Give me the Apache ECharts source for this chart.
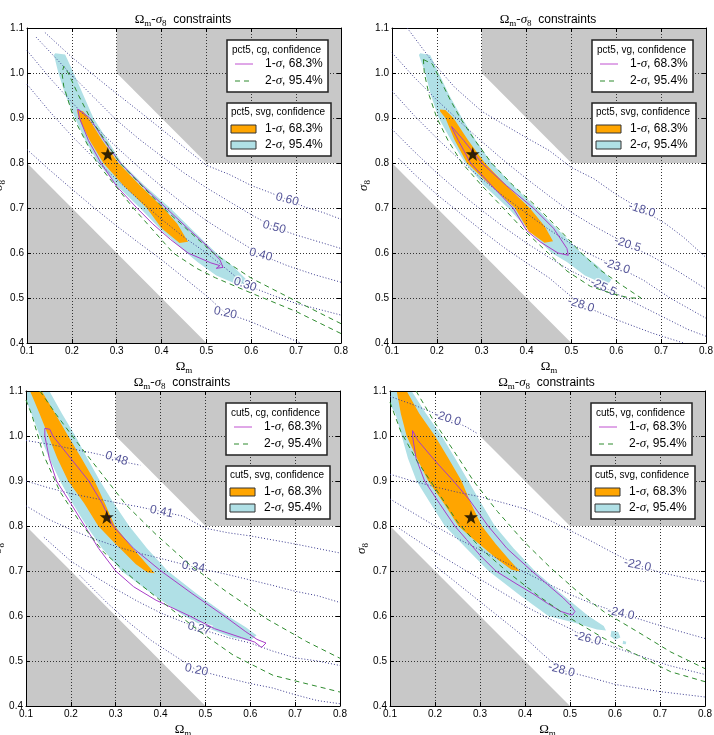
<!DOCTYPE html>
<html>
<head>
<meta charset="utf-8">
<script src="https://cdn.jsdelivr.net/npm/echarts@6.0.0/dist/echarts.min.js"></script>
<style>
  html, body { margin: 0; padding: 0; background: #fff; }
  #chart { width: 714px; height: 735px; }
</style>
</head>
<body>
<div id="chart"></div>
<script>
// ---- data (Omega_m, sigma_8) ----
const fiducial = [[0.28, 0.82]];
const excludedLow = [[0.1, 0.4], [0.1, 0.8], [0.5, 0.4]];
const excludedHigh = [[0.3, 1.1], [0.3, 1.0], [0.5, 0.8], [0.8, 0.8], [0.8, 1.1]];
const sigmaLabels = ['1-{i|σ}, 68.3%', '2-{i|σ}, 95.4%'];

// panel 1: pct5, cg
const p1Fill2 = [[0.163,1.044],[0.185,1.041],[0.204,1.0],[0.226,0.95],[0.248,0.9],[0.28,0.85],[0.311,0.8],[0.362,0.75],[0.419,0.7],[0.47,0.65],[0.522,0.6],[0.56,0.57],[0.593,0.537],[0.574,0.528],[0.522,0.55],[0.48,0.58],[0.456,0.6],[0.4,0.65],[0.352,0.7],[0.3,0.75],[0.259,0.8],[0.23,0.85],[0.207,0.9],[0.186,0.95],[0.17,1.0],[0.16,1.04]];
const p1Fill1 = [[0.211,0.919],[0.225,0.915],[0.237,0.9],[0.268,0.85],[0.304,0.8],[0.352,0.75],[0.404,0.7],[0.435,0.665],[0.459,0.625],[0.44,0.622],[0.4,0.655],[0.367,0.7],[0.315,0.75],[0.27,0.8],[0.24,0.85],[0.215,0.9],[0.211,0.919]];
const p1Sigma1 = [[0.213,0.92],[0.24,0.9],[0.272,0.85],[0.308,0.8],[0.357,0.75],[0.41,0.7],[0.458,0.655],[0.5,0.617],[0.53,0.585],[0.537,0.568],[0.522,0.566],[0.53,0.572],[0.51,0.578],[0.459,0.6],[0.42,0.63],[0.38,0.665],[0.345,0.7],[0.3,0.748],[0.265,0.8],[0.237,0.85],[0.217,0.9],[0.213,0.92]];
const p1Sigma2 = [[[0.8,0.421],[0.7,0.47],[0.6,0.511],[0.52,0.545],[0.478,0.566],[0.426,0.6],[0.337,0.7],[0.256,0.8],[0.204,0.9],[0.182,0.97],[0.178,1.0],[0.182,1.015],[0.192,1.0],[0.215,0.95],[0.241,0.9],[0.307,0.8],[0.404,0.7],[0.515,0.6],[0.6,0.544],[0.7,0.493],[0.8,0.443]]];
const p1Levels = ['0.60', '0.50', '0.40', '0.30', '0.20'];
const p1LabelAt = [[0.68,0.719],[0.651,0.657],[0.621,0.596],[0.586,0.53],[0.542,0.467]];
const p1Contours = [
  [[0.14,1.09],[0.2,1.035],[0.28,0.97],[0.35,0.915],[0.4,0.875],[0.45,0.835],[0.5,0.795],[0.55,0.775],[0.6,0.75],[0.64,0.735],[0.68,0.719],[0.72,0.702],[0.76,0.69],[0.8,0.675]],
  [[0.12,1.08],[0.2,0.995],[0.25,0.945],[0.3,0.895],[0.35,0.853],[0.4,0.815],[0.45,0.778],[0.5,0.745],[0.55,0.715],[0.6,0.685],[0.651,0.657],[0.7,0.64],[0.75,0.625],[0.8,0.61]],
  [[0.1,1.05],[0.15,0.99],[0.2,0.935],[0.25,0.883],[0.3,0.835],[0.35,0.79],[0.4,0.748],[0.45,0.708],[0.5,0.672],[0.55,0.64],[0.621,0.596],[0.68,0.572],[0.74,0.552],[0.8,0.535]],
  [[0.1,0.975],[0.15,0.915],[0.2,0.86],[0.25,0.81],[0.3,0.763],[0.35,0.718],[0.4,0.675],[0.45,0.635],[0.5,0.6],[0.55,0.56],[0.586,0.53],[0.65,0.505],[0.7,0.488],[0.75,0.475],[0.8,0.462]],
  [[0.1,0.83],[0.15,0.785],[0.2,0.742],[0.25,0.7],[0.3,0.66],[0.35,0.622],[0.4,0.585],[0.45,0.545],[0.5,0.505],[0.542,0.467],[0.6,0.447],[0.65,0.425],[0.71,0.4]]
];
const p1LabelRot = [-15, -15, -15, -18, -12];

// panel 2: pct5, vg
const p2Fill2 = [[0.163,1.044],[0.185,1.04],[0.204,1.0],[0.228,0.95],[0.256,0.9],[0.287,0.85],[0.322,0.8],[0.37,0.75],[0.422,0.7],[0.472,0.65],[0.522,0.6],[0.56,0.57],[0.589,0.541],[0.58,0.528],[0.53,0.55],[0.49,0.58],[0.456,0.6],[0.405,0.65],[0.359,0.7],[0.305,0.75],[0.263,0.8],[0.232,0.85],[0.204,0.9],[0.187,0.95],[0.174,1.0],[0.16,1.04]];
const p2Fill1 = [[0.207,0.919],[0.219,0.918],[0.237,0.9],[0.27,0.85],[0.307,0.8],[0.355,0.75],[0.407,0.7],[0.44,0.66],[0.459,0.626],[0.44,0.623],[0.405,0.648],[0.374,0.7],[0.32,0.75],[0.267,0.8],[0.24,0.85],[0.219,0.9],[0.207,0.915]];
const p2Sigma1 = [[0.233,0.881],[0.26,0.85],[0.3,0.8],[0.355,0.75],[0.415,0.7],[0.46,0.655],[0.49,0.61],[0.493,0.595],[0.47,0.6],[0.43,0.625],[0.4,0.65],[0.37,0.7],[0.322,0.75],[0.275,0.8],[0.248,0.85],[0.235,0.875],[0.233,0.881]];
const p2Sigma2 = [[[0.17,1.03],[0.19,1.02],[0.21,0.98],[0.23,0.94],[0.252,0.9],[0.285,0.85],[0.322,0.8],[0.37,0.75],[0.426,0.7],[0.475,0.65],[0.522,0.6],[0.56,0.565],[0.61,0.53],[0.655,0.5],[0.63,0.5],[0.59,0.51],[0.542,0.526],[0.49,0.56],[0.448,0.6],[0.395,0.65],[0.348,0.7],[0.3,0.75],[0.256,0.8],[0.225,0.85],[0.2,0.9],[0.183,0.95],[0.172,1.0],[0.17,1.03]]];
const p2Levels = ['-18.0', '-20.5', '-23.0', '-25.5', '-28.0'];
const p2LabelAt = [[0.657,0.696],[0.625,0.619],[0.601,0.57],[0.571,0.524],[0.521,0.485]];
const p2Contours = [
  [[0.134,1.1],[0.19,1.025],[0.24,0.968],[0.3,0.915],[0.35,0.885],[0.4,0.856],[0.45,0.828],[0.5,0.79],[0.55,0.765],[0.6,0.73],[0.657,0.696],[0.71,0.665],[0.75,0.635],[0.8,0.59]],
  [[0.1,1.045],[0.15,0.99],[0.2,0.94],[0.25,0.893],[0.3,0.848],[0.35,0.805],[0.4,0.765],[0.45,0.727],[0.5,0.69],[0.55,0.66],[0.625,0.619],[0.68,0.592],[0.74,0.558],[0.8,0.52]],
  [[0.1,0.96],[0.15,0.905],[0.2,0.855],[0.25,0.808],[0.3,0.765],[0.35,0.725],[0.4,0.688],[0.45,0.652],[0.5,0.62],[0.55,0.593],[0.601,0.57],[0.66,0.54],[0.72,0.5],[0.8,0.455]],
  [[0.1,0.875],[0.15,0.825],[0.2,0.778],[0.25,0.735],[0.3,0.695],[0.35,0.657],[0.4,0.622],[0.45,0.59],[0.5,0.56],[0.571,0.524],[0.63,0.495],[0.7,0.46],[0.76,0.43],[0.8,0.415]],
  [[0.115,0.81],[0.15,0.775],[0.2,0.73],[0.25,0.69],[0.3,0.65],[0.35,0.612],[0.4,0.578],[0.45,0.545],[0.521,0.485],[0.6,0.452],[0.68,0.422],[0.75,0.4]]
];
const p2LabelRot = [-18, -18, -18, -25, -18];

// panel 3: cut5, cg
const p3Fill2 = [[0.1,1.1],[0.152,1.1],[0.18,1.05],[0.21,1.0],[0.237,0.95],[0.265,0.9],[0.296,0.85],[0.33,0.8],[0.37,0.75],[0.416,0.7],[0.48,0.65],[0.55,0.6],[0.59,0.575],[0.614,0.557],[0.6,0.545],[0.56,0.552],[0.5,0.575],[0.453,0.6],[0.38,0.65],[0.313,0.7],[0.27,0.75],[0.235,0.8],[0.204,0.85],[0.176,0.9],[0.152,0.95],[0.131,1.0],[0.112,1.05],[0.1,1.08]];
const p3Fill1 = [[0.109,1.1],[0.135,1.1],[0.165,1.05],[0.194,1.0],[0.224,0.95],[0.253,0.9],[0.276,0.85],[0.298,0.8],[0.33,0.76],[0.365,0.72],[0.387,0.695],[0.37,0.697],[0.345,0.715],[0.315,0.745],[0.29,0.77],[0.261,0.8],[0.23,0.85],[0.194,0.9],[0.17,0.95],[0.15,1.0],[0.13,1.05],[0.109,1.1]];
const p3Sigma1 = [[0.142,1.017],[0.153,1.015],[0.16,1.0],[0.2,0.95],[0.24,0.9],[0.27,0.85],[0.294,0.8],[0.34,0.75],[0.401,0.7],[0.47,0.65],[0.542,0.6],[0.59,0.565],[0.615,0.548],[0.635,0.54],[0.625,0.53],[0.61,0.542],[0.58,0.552],[0.52,0.572],[0.465,0.6],[0.39,0.635],[0.34,0.665],[0.3,0.7],[0.262,0.75],[0.231,0.8],[0.2,0.85],[0.168,0.9],[0.152,0.95],[0.142,1.0],[0.142,1.017]];
const p3Sigma2 = [
  [[0.1,1.08],[0.113,1.047],[0.139,0.958],[0.176,0.876],[0.22,0.809],[0.272,0.743],[0.339,0.683],[0.413,0.624],[0.488,0.565],[0.562,0.513],[0.651,0.468],[0.8,0.431]],
  [[0.131,1.1],[0.168,1.047],[0.213,0.987],[0.265,0.921],[0.324,0.846],[0.391,0.78],[0.466,0.713],[0.547,0.654],[0.636,0.594],[0.726,0.543],[0.8,0.506]]
];
const p3Levels = ['0.48', '0.41', '0.34', '0.27', '0.20'];
const p3LabelAt = [[0.302,0.95],[0.402,0.832],[0.473,0.709],[0.486,0.572],[0.48,0.48]];
const p3Contours = [
  [[0.1,0.99],[0.15,0.982],[0.2,0.972],[0.25,0.962],[0.302,0.95],[0.33,0.94],[0.355,0.935]],
  [[0.1,0.9],[0.15,0.885],[0.2,0.872],[0.25,0.862],[0.3,0.852],[0.35,0.843],[0.402,0.832],[0.45,0.822],[0.5,0.795],[0.55,0.785],[0.6,0.778],[0.7,0.76],[0.8,0.74]],
  [[0.1,0.845],[0.15,0.815],[0.2,0.792],[0.25,0.772],[0.3,0.755],[0.35,0.74],[0.4,0.728],[0.473,0.709],[0.55,0.692],[0.6,0.68],[0.65,0.668],[0.7,0.655],[0.75,0.645],[0.8,0.63]],
  [[0.14,0.775],[0.2,0.722],[0.25,0.69],[0.3,0.66],[0.35,0.632],[0.4,0.607],[0.486,0.572],[0.55,0.552],[0.6,0.54],[0.65,0.522],[0.7,0.507],[0.75,0.5],[0.8,0.49]],
  [[0.22,0.69],[0.28,0.63],[0.33,0.585],[0.38,0.545],[0.48,0.48],[0.55,0.462],[0.6,0.45],[0.65,0.44],[0.7,0.425],[0.75,0.412],[0.8,0.405]]
];
const p3LabelRot = [-18, -12, -10, -15, -12];

// panel 4: cut5, vg
const p4Fill2 = [[0.104,1.1],[0.148,1.1],[0.18,1.05],[0.215,1.0],[0.245,0.95],[0.274,0.9],[0.303,0.85],[0.333,0.8],[0.375,0.75],[0.422,0.7],[0.48,0.65],[0.541,0.6],[0.575,0.578],[0.58,0.568],[0.56,0.57],[0.51,0.585],[0.452,0.6],[0.39,0.645],[0.319,0.7],[0.27,0.75],[0.222,0.8],[0.19,0.85],[0.159,0.9],[0.14,0.95],[0.126,1.0],[0.112,1.05],[0.1,1.07],[0.1,1.1]];
const p4Blob1 = [[0.592,0.567],[0.607,0.565],[0.612,0.552],[0.6,0.547],[0.59,0.555]];
const p4Blob2 = [[0.618,0.545],[0.625,0.543],[0.624,0.537],[0.617,0.538]];
const p4Fill1 = [[0.115,1.1],[0.137,1.1],[0.165,1.05],[0.2,1.0],[0.23,0.95],[0.259,0.9],[0.28,0.85],[0.304,0.8],[0.335,0.76],[0.365,0.725],[0.389,0.699],[0.37,0.703],[0.34,0.725],[0.31,0.75],[0.28,0.775],[0.252,0.8],[0.22,0.85],[0.185,0.9],[0.16,0.95],[0.137,1.0],[0.124,1.05],[0.115,1.1]];
const p4Sigma1 = [[0.15,1.012],[0.162,0.99],[0.2,0.945],[0.241,0.9],[0.275,0.86],[0.318,0.8],[0.36,0.75],[0.415,0.7],[0.45,0.67],[0.485,0.64],[0.5,0.625],[0.511,0.61],[0.505,0.602],[0.48,0.61],[0.45,0.628],[0.42,0.648],[0.38,0.672],[0.335,0.7],[0.3,0.735],[0.27,0.77],[0.244,0.8],[0.21,0.85],[0.177,0.9],[0.158,0.95],[0.15,1.0],[0.15,1.012]];
const p4Sigma2 = [
  [[0.158,1.1],[0.198,1.032],[0.243,0.965],[0.287,0.898],[0.339,0.832],[0.398,0.765],[0.458,0.706],[0.517,0.654],[0.576,0.609],[0.65,0.565],[0.724,0.52],[0.8,0.483]],
  [[0.1,1.075],[0.124,1.01],[0.161,0.943],[0.206,0.876],[0.25,0.809],[0.302,0.75],[0.361,0.698],[0.428,0.646],[0.502,0.594],[0.576,0.55],[0.65,0.513],[0.724,0.476],[0.8,0.454]]
];
const p4Levels = ['-20.0', '-22.0', '-24.0', '-26.0', '-28.0'];
const p4LabelAt = [[0.228,1.039],[0.65,0.713],[0.613,0.606],[0.539,0.55],[0.481,0.48]];
const p4Contours = [
  [[0.1,1.088],[0.15,1.07],[0.228,1.039],[0.27,1.02],[0.295,1.005]],
  [[0.1,0.915],[0.15,0.9],[0.2,0.887],[0.25,0.875],[0.3,0.865],[0.35,0.852],[0.4,0.838],[0.45,0.815],[0.5,0.79],[0.55,0.765],[0.6,0.738],[0.65,0.713],[0.7,0.697],[0.75,0.686],[0.8,0.676]],
  [[0.1,0.86],[0.15,0.83],[0.2,0.8],[0.25,0.772],[0.3,0.747],[0.35,0.722],[0.4,0.697],[0.45,0.672],[0.5,0.648],[0.55,0.627],[0.613,0.606],[0.68,0.585],[0.74,0.567],[0.8,0.55]],
  [[0.12,0.795],[0.15,0.775],[0.2,0.742],[0.25,0.712],[0.3,0.682],[0.35,0.652],[0.4,0.622],[0.45,0.596],[0.5,0.572],[0.539,0.55],[0.6,0.53],[0.66,0.51],[0.72,0.49],[0.8,0.47]],
  [[0.2,0.712],[0.25,0.672],[0.3,0.632],[0.35,0.592],[0.4,0.552],[0.44,0.515],[0.481,0.48],[0.55,0.462],[0.6,0.448],[0.7,0.432],[0.8,0.42]]
];
const p4LabelRot = [-18, -12, -12, -15, -15];

const panels = [
  {fill2: [p1Fill2], fill1: p1Fill1, sigma1: p1Sigma1, sigma2: p1Sigma2, levels: p1Levels, labelAt: p1LabelAt, rot: p1LabelRot, contours: p1Contours, legA: 'pct5, cg, confidence', legB: 'pct5, svg, confidence'},
  {fill2: [p2Fill2], fill1: p2Fill1, sigma1: p2Sigma1, sigma2: p2Sigma2, levels: p2Levels, labelAt: p2LabelAt, rot: p2LabelRot, contours: p2Contours, legA: 'pct5, vg, confidence', legB: 'pct5, svg, confidence'},
  {fill2: [p3Fill2], fill1: p3Fill1, sigma1: p3Sigma1, sigma2: p3Sigma2, levels: p3Levels, labelAt: p3LabelAt, rot: p3LabelRot, contours: p3Contours, legA: 'cut5, cg, confidence', legB: 'cut5, svg, confidence'},
  {fill2: [p4Fill2, p4Blob1, p4Blob2], fill1: p4Fill1, sigma1: p4Sigma1, sigma2: p4Sigma2, levels: p4Levels, labelAt: p4LabelAt, rot: p4LabelRot, contours: p4Contours, legA: 'cut5, vg, confidence', legB: 'cut5, svg, confidence'}
];

// ---- layout / style ----
const grids = [
  {left: 27, top: 28, width: 314, height: 315},
  {left: 392, top: 28, width: 314, height: 315},
  {left: 26, top: 391, width: 314, height: 315},
  {left: 390, top: 391, width: 315, height: 315}
];
const serif = 'Liberation Serif';
const sans = 'Liberation Sans';
const GRAY = '#c8c8c8', CYAN = '#b0e0e6', ORANGE = '#ffa500';
const PURPLE = '#a83cc8', GREEN = '#2e8b2e', CONTOUR = '#3a3a8e', LABEL = '#28287e';
const star = 'path://M0,-10L2.35,-3.24L9.51,-3.09L3.8,1.24L5.88,8.09L0,4L-5.88,8.09L-3.8,1.24L-9.51,-3.09L-2.35,-3.24Z';

const mathRich = {
  o: {fontFamily: serif, fontSize: 13, lineHeight: 16, color: '#000'},
  i: {fontFamily: serif, fontStyle: 'italic', fontSize: 13, lineHeight: 16, color: '#000'},
  s: {fontFamily: serif, fontSize: 9, lineHeight: 9, verticalAlign: 'bottom', color: '#000'},
  t: {fontFamily: sans, fontSize: 12, lineHeight: 16, color: '#000'}
};

function area(ax, pts, color) {
  return {
    type: 'custom', xAxisIndex: ax, yAxisIndex: ax, z: -1, silent: true,
    data: pts,
    renderItem: (params, api) => {
      if (params.dataIndex !== 0) return null;
      return {type: 'polygon', shape: {points: pts.map(p => api.coord(p))}, style: {fill: color}};
    }
  };
}

const option = {animation: false, grid: [], xAxis: [], yAxis: [], series: [], graphic: []};

panels.forEach((p, i) => {
  const g = grids[i];
  const ax = i * 2;
  option.grid.push(Object.assign({containLabel: false, outerBoundsMode: 'none'}, g));

  const tick = {show: true, inside: true, length: 4, lineStyle: {color: '#000'}};
  const line = {show: true, onZero: false, lineStyle: {color: '#000', width: 1}};
  const split = {show: true, lineStyle: {color: '#333', width: 1, type: [1, 2]}};
  option.xAxis.push({
    type: 'value', gridIndex: i, min: 0.1, max: 0.8, interval: 0.1, position: 'bottom',
    axisLine: line, axisTick: tick, splitLine: split,
    axisLabel: {fontSize: 10, fontFamily: sans, color: '#000', margin: 3, formatter: v => v.toFixed(1)},
    name: '{o|Ω}{s|m}', nameLocation: 'middle', nameGap: 16, nameMoveOverlap: false,
    nameTextStyle: {rich: mathRich}
  }, {
    type: 'value', gridIndex: i, min: 0.1, max: 0.8, interval: 0.1, position: 'top',
    axisLine: line, axisTick: tick, splitLine: {show: false}, axisLabel: {show: false}
  });
  option.yAxis.push({
    type: 'value', gridIndex: i, min: 0.4, max: 1.1, interval: 0.1, position: 'left',
    axisLine: line, axisTick: tick, splitLine: split,
    axisLabel: {fontSize: 10, fontFamily: sans, color: '#000', margin: 3, formatter: v => v.toFixed(1)},
    name: '{i|σ}{s|8}', nameLocation: 'middle', nameGap: 20, nameMoveOverlap: false,
    nameTextStyle: {rich: mathRich}
  }, {
    type: 'value', gridIndex: i, min: 0.4, max: 1.1, interval: 0.1, position: 'right',
    axisLine: line, axisTick: tick, splitLine: {show: false}, axisLabel: {show: false}
  });

  option.series.push(area(ax, excludedLow, GRAY), area(ax, excludedHigh, GRAY));
  p.fill2.forEach(f => option.series.push(area(ax, f, CYAN)));
  option.series.push(area(ax, p.fill1, ORANGE));

  p.contours.forEach(c => option.series.push({
    type: 'line', xAxisIndex: ax, yAxisIndex: ax, data: c, symbol: 'none', z: 2, silent: true,
    lineStyle: {color: CONTOUR, width: 1, type: [1, 2]}
  }));
  option.series.push({
    type: 'scatter', xAxisIndex: ax, yAxisIndex: ax, symbolSize: 0, z: 3, silent: true,
    data: p.labelAt.map((pt, k) => ({value: pt, label: {formatter: p.levels[k], rotate: p.rot[k]}})),
    label: {show: true, position: 'inside', color: LABEL, fontSize: 12, fontFamily: sans,
            textBorderColor: '#fff', textBorderWidth: 3}
  });
  option.series.push({
    type: 'line', xAxisIndex: ax, yAxisIndex: ax, data: p.sigma1, symbol: 'none', z: 4, silent: true,
    lineStyle: {color: PURPLE, width: 1}
  });
  p.sigma2.forEach(s => option.series.push({
    type: 'line', xAxisIndex: ax, yAxisIndex: ax, data: s, symbol: 'none', z: 4, silent: true,
    lineStyle: {color: GREEN, width: 1, type: [5, 4]}
  }));
  option.series.push({
    type: 'scatter', xAxisIndex: ax, yAxisIndex: ax, data: fiducial, symbol: star, symbolSize: 14,
    itemStyle: {color: '#000'}, z: 5, silent: true
  });

  // title
  const cx = g.left + g.width / 2 - 1;
  option.graphic.push({
    type: 'text', x: cx, y: g.top - 8, z: 20,
    style: {text: '{o|Ω}{s|m}{o|-}{i|σ}{s|8}{t|  constraints}', rich: mathRich,
            align: 'center', verticalAlign: 'middle', textAlign: 'center', textVerticalAlign: 'middle'}
  });

  // legends
  const right = g.left + g.width;
  const bx = right - 114;
  const b1y = g.top + 12, b2y = g.top + 75;
  const txt = (x, y, text, size) => ({
    type: 'text', x: x, y: y, z: 21,
    style: {text: text, fontSize: size, fontFamily: sans, fill: '#000',
            rich: {i: {fontFamily: serif, fontStyle: 'italic', fontSize: size + 1}},
            align: 'left', verticalAlign: 'middle', textAlign: 'left', textVerticalAlign: 'middle'}
  });
  option.graphic.push(
    {type: 'rect', z: 20, shape: {x: bx, y: b1y, width: 101, height: 52}, style: {fill: '#fff', stroke: '#222', lineWidth: 1.5}},
    txt(bx + 5, b1y + 10, p.legA, 10),
    {type: 'line', z: 21, shape: {x1: bx + 8, y1: b1y + 24, x2: bx + 26, y2: b1y + 24}, style: {stroke: '#c050d0', lineWidth: 1}},
    txt(bx + 38, b1y + 24, sigmaLabels[0], 12),
    {type: 'line', z: 21, shape: {x1: bx + 8, y1: b1y + 41, x2: bx + 26, y2: b1y + 41}, style: {stroke: GREEN, lineWidth: 1, lineDash: [5, 4]}},
    txt(bx + 38, b1y + 41, sigmaLabels[1], 12),
    {type: 'rect', z: 20, shape: {x: bx, y: b2y, width: 104, height: 53}, style: {fill: '#fff', stroke: '#222', lineWidth: 1.5}},
    txt(bx + 4, b2y + 9, p.legB, 10),
    {type: 'rect', z: 21, shape: {x: bx + 4, y: b2y + 22, width: 25, height: 8}, style: {fill: ORANGE, stroke: '#333', lineWidth: 1}},
    txt(bx + 38, b2y + 26, sigmaLabels[0], 12),
    {type: 'rect', z: 21, shape: {x: bx + 4, y: b2y + 38, width: 25, height: 8}, style: {fill: CYAN, stroke: '#333', lineWidth: 1}},
    txt(bx + 38, b2y + 42, sigmaLabels[1], 12)
  );
});

const chart = echarts.init(document.getElementById('chart'));
chart.setOption(option);
</script>
</body>
</html>
